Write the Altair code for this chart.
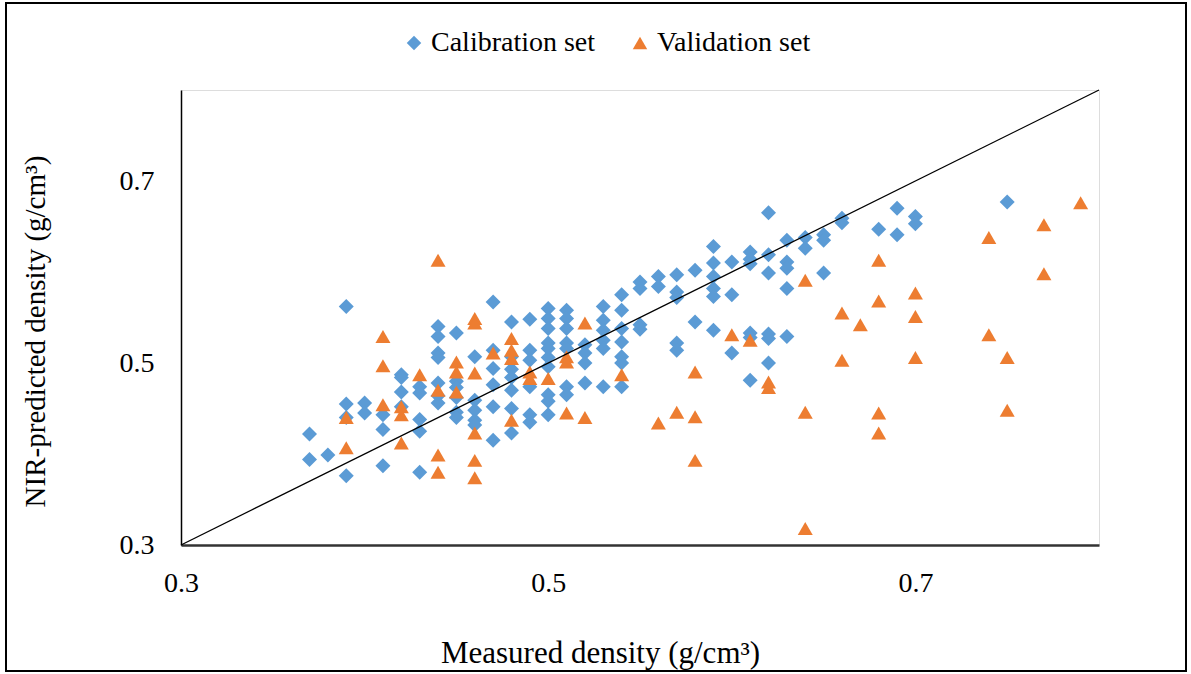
import altair as alt
import pandas as pd

# Calibration set (measured x, predicted y)
cal_x = [0.37, 0.37, 0.38,
         0.39, 0.39, 0.39, 0.39,
         0.40, 0.40,
         0.41, 0.41, 0.41,
         0.42, 0.42, 0.42, 0.42,
         0.43, 0.43, 0.43, 0.43, 0.43,
         0.44, 0.44, 0.44, 0.44, 0.44, 0.44, 0.44,
         0.45, 0.45, 0.45, 0.45, 0.45, 0.45,
         0.46, 0.46, 0.46, 0.46, 0.46,
         0.47, 0.47, 0.47, 0.47, 0.47, 0.47,
         0.48, 0.48, 0.48, 0.48, 0.48, 0.48, 0.48,
         0.49, 0.49, 0.49, 0.49, 0.49, 0.49,
         0.50, 0.50, 0.50, 0.50, 0.50, 0.50, 0.50, 0.50, 0.50, 0.50,
         0.51, 0.51, 0.51, 0.51, 0.51, 0.51, 0.51,
         0.52, 0.52, 0.52, 0.52,
         0.53, 0.53, 0.53, 0.53, 0.53, 0.53,
         0.54, 0.54, 0.54, 0.54, 0.54, 0.54, 0.54,
         0.55, 0.55, 0.55, 0.55,
         0.56, 0.56,
         0.57, 0.57, 0.57, 0.57, 0.57,
         0.58, 0.58,
         0.59, 0.59, 0.59, 0.59, 0.59, 0.59,
         0.60, 0.60, 0.60,
         0.61, 0.61, 0.61, 0.61, 0.61, 0.61,
         0.62, 0.62, 0.62, 0.62, 0.62, 0.62,
         0.63, 0.63, 0.63, 0.63, 0.63,
         0.64, 0.64,
         0.65, 0.65, 0.65,
         0.66, 0.66,
         0.68,
         0.69, 0.69,
         0.70, 0.70,
         0.75]
cal_y = [0.422, 0.394, 0.399,
         0.562, 0.455, 0.440, 0.376,
         0.456, 0.445,
         0.443, 0.427, 0.387,
         0.487, 0.484, 0.468, 0.452,
         0.474, 0.467, 0.438, 0.425, 0.380,
         0.540, 0.529, 0.511, 0.506, 0.478, 0.464, 0.456,
         0.533, 0.480, 0.473, 0.462, 0.446, 0.440,
         0.507, 0.459, 0.448, 0.437, 0.432,
         0.567, 0.514, 0.494, 0.476, 0.452, 0.415,
         0.545, 0.507, 0.493, 0.484, 0.470, 0.450, 0.423,
         0.548, 0.514, 0.503, 0.474, 0.443, 0.435,
         0.560, 0.549, 0.538, 0.522, 0.516, 0.506, 0.496, 0.465, 0.458, 0.443,
         0.558, 0.549, 0.538, 0.522, 0.516, 0.474, 0.465,
         0.520, 0.511, 0.500, 0.478,
         0.562, 0.547, 0.536, 0.525, 0.516, 0.474,
         0.575, 0.558, 0.538, 0.523, 0.507, 0.500, 0.474,
         0.589, 0.582, 0.542, 0.537,
         0.595, 0.584,
         0.597, 0.578, 0.572, 0.522, 0.514,
         0.602, 0.545,
         0.628, 0.610, 0.595, 0.582, 0.573, 0.536,
         0.611, 0.575, 0.511,
         0.622, 0.614, 0.609, 0.533, 0.528, 0.481,
         0.665, 0.619, 0.599, 0.532, 0.527, 0.500,
         0.635, 0.611, 0.604, 0.582, 0.529,
         0.638, 0.626,
         0.641, 0.635, 0.599,
         0.659, 0.654,
         0.647,
         0.670, 0.641,
         0.661, 0.653,
         0.677]

# Validation set
val_x = [0.39, 0.39,
         0.41, 0.41, 0.41,
         0.42, 0.42, 0.42,
         0.43,
         0.44, 0.44, 0.44, 0.44,
         0.45, 0.45, 0.45,
         0.46, 0.46, 0.46, 0.46, 0.46, 0.46,
         0.47,
         0.48, 0.48, 0.48, 0.48,
         0.49, 0.49,
         0.50,
         0.51, 0.51, 0.51,
         0.52, 0.52,
         0.54,
         0.56,
         0.57,
         0.58, 0.58, 0.58,
         0.60,
         0.61,
         0.62, 0.62,
         0.64, 0.64, 0.64,
         0.66, 0.66,
         0.67,
         0.68, 0.68, 0.68, 0.68,
         0.70, 0.70, 0.70,
         0.74, 0.74,
         0.75, 0.75,
         0.77, 0.77,
         0.79]
val_y = [0.440, 0.407,
         0.529, 0.497, 0.454,
         0.452, 0.443, 0.412,
         0.487,
         0.613, 0.470, 0.399, 0.380,
         0.501, 0.490, 0.468,
         0.549, 0.544, 0.489, 0.423, 0.393, 0.374,
         0.511,
         0.527, 0.514, 0.505, 0.437,
         0.490, 0.483,
         0.483,
         0.507, 0.501, 0.445,
         0.544, 0.440,
         0.487,
         0.434,
         0.446,
         0.490, 0.441, 0.393,
         0.531,
         0.525,
         0.479, 0.473,
         0.591, 0.446, 0.318,
         0.555, 0.503,
         0.542,
         0.613, 0.568, 0.445, 0.423,
         0.577, 0.551, 0.506,
         0.638, 0.531,
         0.506, 0.448,
         0.652, 0.598,
         0.676]

line_x = [0.3, 0.8]
line_y = [0.3, 0.8]

series = ["Calibration set", "Validation set"]
colors = ["#5B9BD5", "#ED7D31"]
shapes = ["diamond", "triangle-up"]
axis_ticks = [0.3, 0.5, 0.7]

FONT = "'Liberation Serif', 'Times New Roman', Times, serif"

pts = pd.DataFrame({
    "x": cal_x + val_x,
    "y": cal_y + val_y,
    "set": [series[0]] * len(cal_x) + [series[1]] * len(val_x),
    "order": [0] * len(cal_x) + [1] * len(val_x),
})
line_df = pd.DataFrame({"x": line_x, "y": line_y})

xscale = alt.Scale(domain=[0.3, 0.8], nice=False, zero=False)
yscale = alt.Scale(domain=[0.3, 0.8], nice=False, zero=False)

xaxis = alt.Axis(values=axis_ticks, format=".1f", ticks=False, grid=False,
                 domainColor="#333333", domainWidth=2.5,
                 labelFont=FONT, labelFontSize=28, labelColor="black",
                 labelPadding=24, labelFlush=False,
                 title="Measured density (g/cm³)", titleFont=FONT,
                 titleFontSize=31, titleFontWeight="normal", titleColor="black",
                 titleX=419, titleY=108, titleAlign="center",
                 titleBaseline="middle")
yaxis = alt.Axis(values=axis_ticks, format=".1f", ticks=False, grid=False,
                 domainColor="black", domainWidth=1.5,
                 labelFont=FONT, labelFontSize=28, labelColor="black",
                 labelPadding=27, labelFlush=False,
                 title="NIR-predicted density (g/cm³)", titleFont=FONT,
                 titleFontSize=29, titleFontWeight="normal", titleColor="black",
                 titleX=-146, titleY=241, titleAngle=-90,
                 titleAlign="center", titleBaseline="middle")

points = alt.Chart(pts).mark_point(filled=True, opacity=1, size=225).encode(
    x=alt.X("x:Q", scale=xscale, axis=xaxis),
    y=alt.Y("y:Q", scale=yscale, axis=yaxis),
    color=alt.Color("set:N", scale=alt.Scale(domain=series, range=colors),
                    legend=alt.Legend(title=None, orient="none",
                                      direction="horizontal",
                                      legendX=219, legendY=-61,
                                      labelFont=FONT, labelFontSize=28,
                                      labelColor="black", symbolSize=210,
                                      labelOffset=3, columnPadding=30,
                                      labelLimit=400,
                                      symbolStrokeWidth=0)),
    shape=alt.Shape("set:N", scale=alt.Scale(domain=series, range=shapes)),
    order=alt.Order("order:Q"),
)

diag = alt.Chart(line_df).mark_line(color="black", strokeWidth=1.3).encode(
    x=alt.X("x:Q", scale=xscale),
    y=alt.Y("y:Q", scale=yscale),
)

frame = alt.Chart(pd.DataFrame({"k": [0]})).mark_rect(
    filled=False, stroke="black", strokeWidth=2, clip=False
).encode(
    x=alt.value(-175), x2=alt.value(1005),
    y=alt.value(-87), y2=alt.value(581),
)

chart = alt.layer(points, diag, frame).properties(
    width=918, height=455,
    autosize=alt.AutoSizeParams(type="none"),
    padding={"left": 181, "top": 90, "right": 92, "bottom": 129},
    background="white",
).configure_view(stroke=None).configure(font=FONT)

chart.save("out.html", embed_options={"renderer": "svg", "actions": False})
